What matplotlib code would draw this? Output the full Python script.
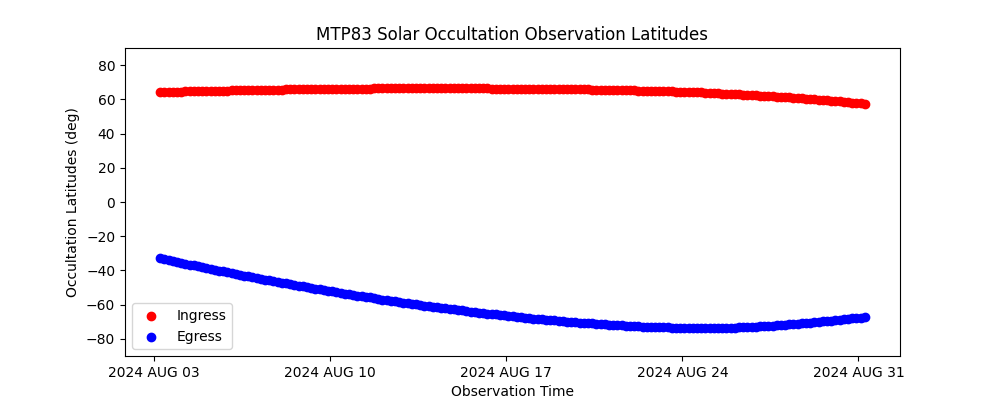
import numpy as np
import pandas as pd
import matplotlib
matplotlib.use("Agg")
import matplotlib.pyplot as plt
import matplotlib.dates as mdates

# observations every 4 hours, starting 2024 AUG 03 06:00
start_time = "2024-08-03 06:00"
step = "4h"

# ingress latitudes (deg), one row per day
ingress_lat = [
    64.2, 64.3, 64.3, 64.4, 64.4, 64.5,
    64.6, 64.6, 64.7, 64.7, 64.8, 64.8,
    64.9, 65.0, 65.0, 65.0, 65.1, 65.2,
    65.2, 65.3, 65.3, 65.3, 65.4, 65.5,
    65.5, 65.5, 65.6, 65.6, 65.7, 65.7,
    65.8, 65.8, 65.8, 65.9, 65.9, 65.9,
    66.0, 66.0, 66.0, 66.1, 66.1, 66.1,
    66.2, 66.2, 66.2, 66.2, 66.3, 66.3,
    66.3, 66.3, 66.3, 66.4, 66.4, 66.4,
    66.4, 66.4, 66.4, 66.4, 66.4, 66.4,
    66.4, 66.5, 66.5, 66.5, 66.5, 66.5,
    66.5, 66.4, 66.4, 66.4, 66.4, 66.4,
    66.4, 66.4, 66.4, 66.4, 66.4, 66.4,
    66.4, 66.3, 66.3, 66.3, 66.3, 66.3,
    66.3, 66.2, 66.2, 66.2, 66.2, 66.1,
    66.1, 66.1, 66.1, 66.0, 66.0, 66.0,
    66.0, 65.9, 65.9, 65.9, 65.8, 65.8,
    65.8, 65.7, 65.7, 65.6, 65.6, 65.5,
    65.5, 65.4, 65.3, 65.3, 65.2, 65.2,
    65.1, 65.0, 65.0, 64.9, 64.8, 64.8,
    64.7, 64.6, 64.6, 64.5, 64.4, 64.3,
    64.3, 64.2, 64.1, 64.0, 63.9, 63.8,
    63.7, 63.5, 63.4, 63.3, 63.2, 63.1,
    63.0, 62.8, 62.7, 62.5, 62.4, 62.2,
    62.1, 61.9, 61.8, 61.6, 61.5, 61.3,
    61.2, 61.0, 60.8, 60.6, 60.4, 60.2,
    60.1, 59.8, 59.6, 59.4, 59.2, 59.0,
    58.8, 58.6, 58.3, 58.1, 57.8, 57.6,
    57.3,
]

# egress latitudes (deg), one row per day
egress_lat = [
    -32.8, -33.3, -33.9, -34.4, -35.0, -35.5,
    -36.1, -36.6, -37.1, -37.6, -38.1, -38.6,
    -39.2, -39.6, -40.1, -40.6, -41.1, -41.6,
    -42.1, -42.6, -43.1, -43.5, -44.0, -44.5,
    -44.9, -45.4, -45.8, -46.3, -46.7, -47.2,
    -47.6, -48.1, -48.5, -48.9, -49.3, -49.8,
    -50.2, -50.6, -51.0, -51.4, -51.9, -52.3,
    -52.7, -53.1, -53.5, -53.9, -54.3, -54.7,
    -55.1, -55.4, -55.8, -56.2, -56.6, -57.0,
    -57.3, -57.7, -58.0, -58.4, -58.8, -59.1,
    -59.5, -59.8, -60.2, -60.5, -60.8, -61.2,
    -61.5, -61.8, -62.1, -62.5, -62.8, -63.1,
    -63.4, -63.7, -64.0, -64.3, -64.6, -64.9,
    -65.2, -65.5, -65.7, -66.0, -66.3, -66.6,
    -66.8, -67.1, -67.3, -67.6, -67.8, -68.1,
    -68.3, -68.6, -68.8, -69.0, -69.2, -69.4,
    -69.7, -69.9, -70.1, -70.3, -70.5, -70.6,
    -70.9, -71.0, -71.2, -71.4, -71.5, -71.7,
    -71.9, -72.0, -72.1, -72.3, -72.4, -72.5,
    -72.7, -72.8, -72.9, -73.0, -73.1, -73.2,
    -73.3, -73.3, -73.4, -73.4, -73.5, -73.5,
    -73.6, -73.6, -73.6, -73.6, -73.6, -73.7,
    -73.7, -73.6, -73.5, -73.5, -73.4, -73.4,
    -73.3, -73.2, -73.1, -72.9, -72.8, -72.7,
    -72.5, -72.4, -72.2, -72.0, -71.8, -71.7,
    -71.5, -71.3, -71.1, -70.9, -70.7, -70.5,
    -70.2, -70.0, -69.8, -69.5, -69.3, -69.0,
    -68.8, -68.5, -68.3, -68.0, -67.7, -67.5,
    -67.2,
]

times = pd.date_range(start_time, periods=len(ingress_lat), freq=step)

fig, ax = plt.subplots(figsize=(10, 4), dpi=100)

ax.scatter(times, ingress_lat, color="red", label="Ingress")
ax.scatter(times, egress_lat, color="blue", label="Egress")

ax.set_ylim(-90, 90)
ax.xaxis.set_major_locator(mdates.DayLocator(bymonthday=[3, 10, 17, 24, 31]))
ax.xaxis.set_major_formatter(plt.FuncFormatter(
    lambda v, pos: mdates.num2date(v).strftime("%Y %b %d").upper()))

ax.set_title("MTP83 Solar Occultation Observation Latitudes")
ax.set_xlabel("Observation Time")
ax.set_ylabel("Occultation Latitudes (deg)")
ax.legend(loc="lower left")

plt.savefig("out.png", dpi=100)
